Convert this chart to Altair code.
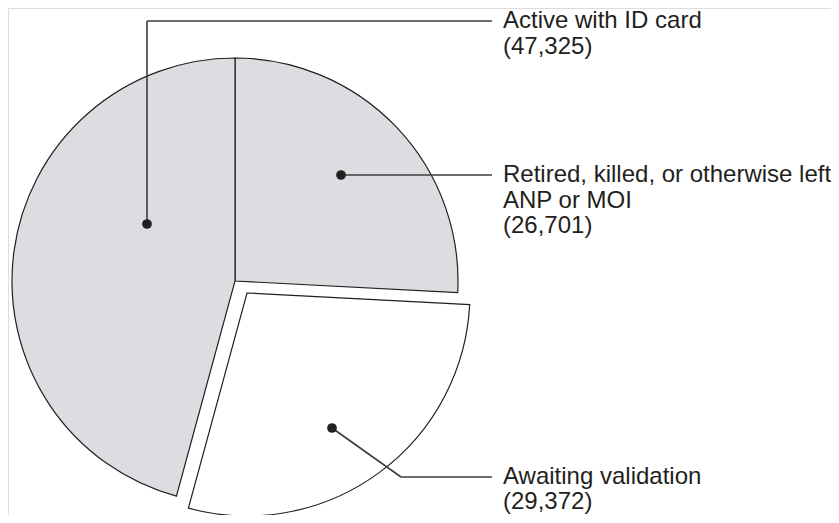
import altair as alt
import pandas as pd

# ---- data ----
categories = ["Retired, killed, or otherwise left ANP or MOI", "Awaiting validation", "Active with ID card"]
counts = [26701, 29372, 47325]
slice_order = [0, 1, 2]          # clockwise from 12 o'clock
exploded = [False, True, False]
label_lines = [
    ["Retired, killed, or otherwise left", "ANP or MOI"],
    ["Awaiting validation"],
    ["Active with ID card"],
]

# ---- layout / style ----
W, H = 823, 507
CX, CY = 227, 273
EXPLODE_DX, EXPLODE_DY = 12, 12
RADIUS = 223
FILLS = ["#dcdde0", "#ffffff", "#dcdde0"]
INK = "#231f20"
LEADER = "#3d3d3d"
FONT = "Liberation Sans"
FONT_SIZE = 24
TEXT_X = 495
# per-slice annotation geometry: dot, leader path, first baseline, line step
ANNOT = [
    dict(dot=(333, 167), path=[(333, 167), (484, 167)], base=174, step=25.5),
    dict(dot=(324, 420), path=[(324, 420), (393, 469), (484, 469)], base=476, step=24.5),
    dict(dot=(139, 216), path=[(139, 216), (139, 13), (484, 13)], base=20, step=26),
]

pie_df = pd.DataFrame({
    "category": categories,
    "count": counts,
    "order": slice_order,
    "exploded": exploded,
})

seg_rows, dot_rows, text_rows = [], [], []
for cat, cnt, lines, a in zip(categories, counts, label_lines, ANNOT):
    dot_rows.append({"category": cat, "x": a["dot"][0], "y": a["dot"][1]})
    p = a["path"]
    for (x1, y1), (x2, y2) in zip(p[:-1], p[1:]):
        seg_rows.append({"category": cat, "x": x1, "y": y1, "x2": x2, "y2": y2})
    all_lines = lines + [f"({cnt:,})"]
    for i, t in enumerate(all_lines):
        text_rows.append({"category": cat, "text": t, "x": TEXT_X, "y": a["base"] + i * a["step"]})

seg_df = pd.DataFrame(seg_rows)
dot_df = pd.DataFrame(dot_rows)
text_df = pd.DataFrame(text_rows)

base_pie = alt.Chart(pie_df).transform_stack(
    stack="count", groupby=[], as_=["s0", "s1"], sort=[alt.SortField("order", order="ascending")]
).transform_joinaggregate(
    total="sum(count)"
).transform_calculate(
    a0="2 * PI * datum.s0 / datum.total",
    a1="2 * PI * datum.s1 / datum.total",
)


def slices(is_exploded, cx, cy):
    return base_pie.transform_filter(
        alt.datum.exploded == is_exploded
    ).mark_arc(
        outerRadius=RADIUS, stroke=INK, strokeWidth=1.2
    ).encode(
        theta=alt.Theta("a0:Q", scale=None),
        theta2="a1:Q",
        color=alt.Color("category:N", scale=alt.Scale(domain=categories, range=FILLS), legend=None),
        x=alt.value(cx),
        y=alt.value(cy),
    )


pie_main = slices(False, CX, CY)
pie_out = slices(True, CX + EXPLODE_DX, CY + EXPLODE_DY)

leaders = alt.Chart(seg_df).mark_rule(color=LEADER, strokeWidth=1.6).encode(
    x=alt.X("x:Q", scale=None, axis=None),
    x2="x2:Q",
    y=alt.Y("y:Q", scale=None, axis=None),
    y2="y2:Q",
)

dots = alt.Chart(dot_df).mark_circle(size=95, color=INK, opacity=1).encode(
    x=alt.X("x:Q", scale=None, axis=None),
    y=alt.Y("y:Q", scale=None, axis=None),
)

labels = alt.Chart(text_df).mark_text(
    align="left", baseline="alphabetic", font=FONT, fontSize=FONT_SIZE, color=INK
).encode(
    x=alt.X("x:Q", scale=None, axis=None),
    y=alt.Y("y:Q", scale=None, axis=None),
    text="text:N",
)

chart = alt.layer(pie_main, pie_out, leaders, dots, labels).properties(
    width=W, height=H, padding=0, autosize=alt.AutoSizeParams(type="none")
).configure_view(stroke=None).configure(background="white")

chart.save("out.html", embed_options={"renderer": "svg", "actions": False})
